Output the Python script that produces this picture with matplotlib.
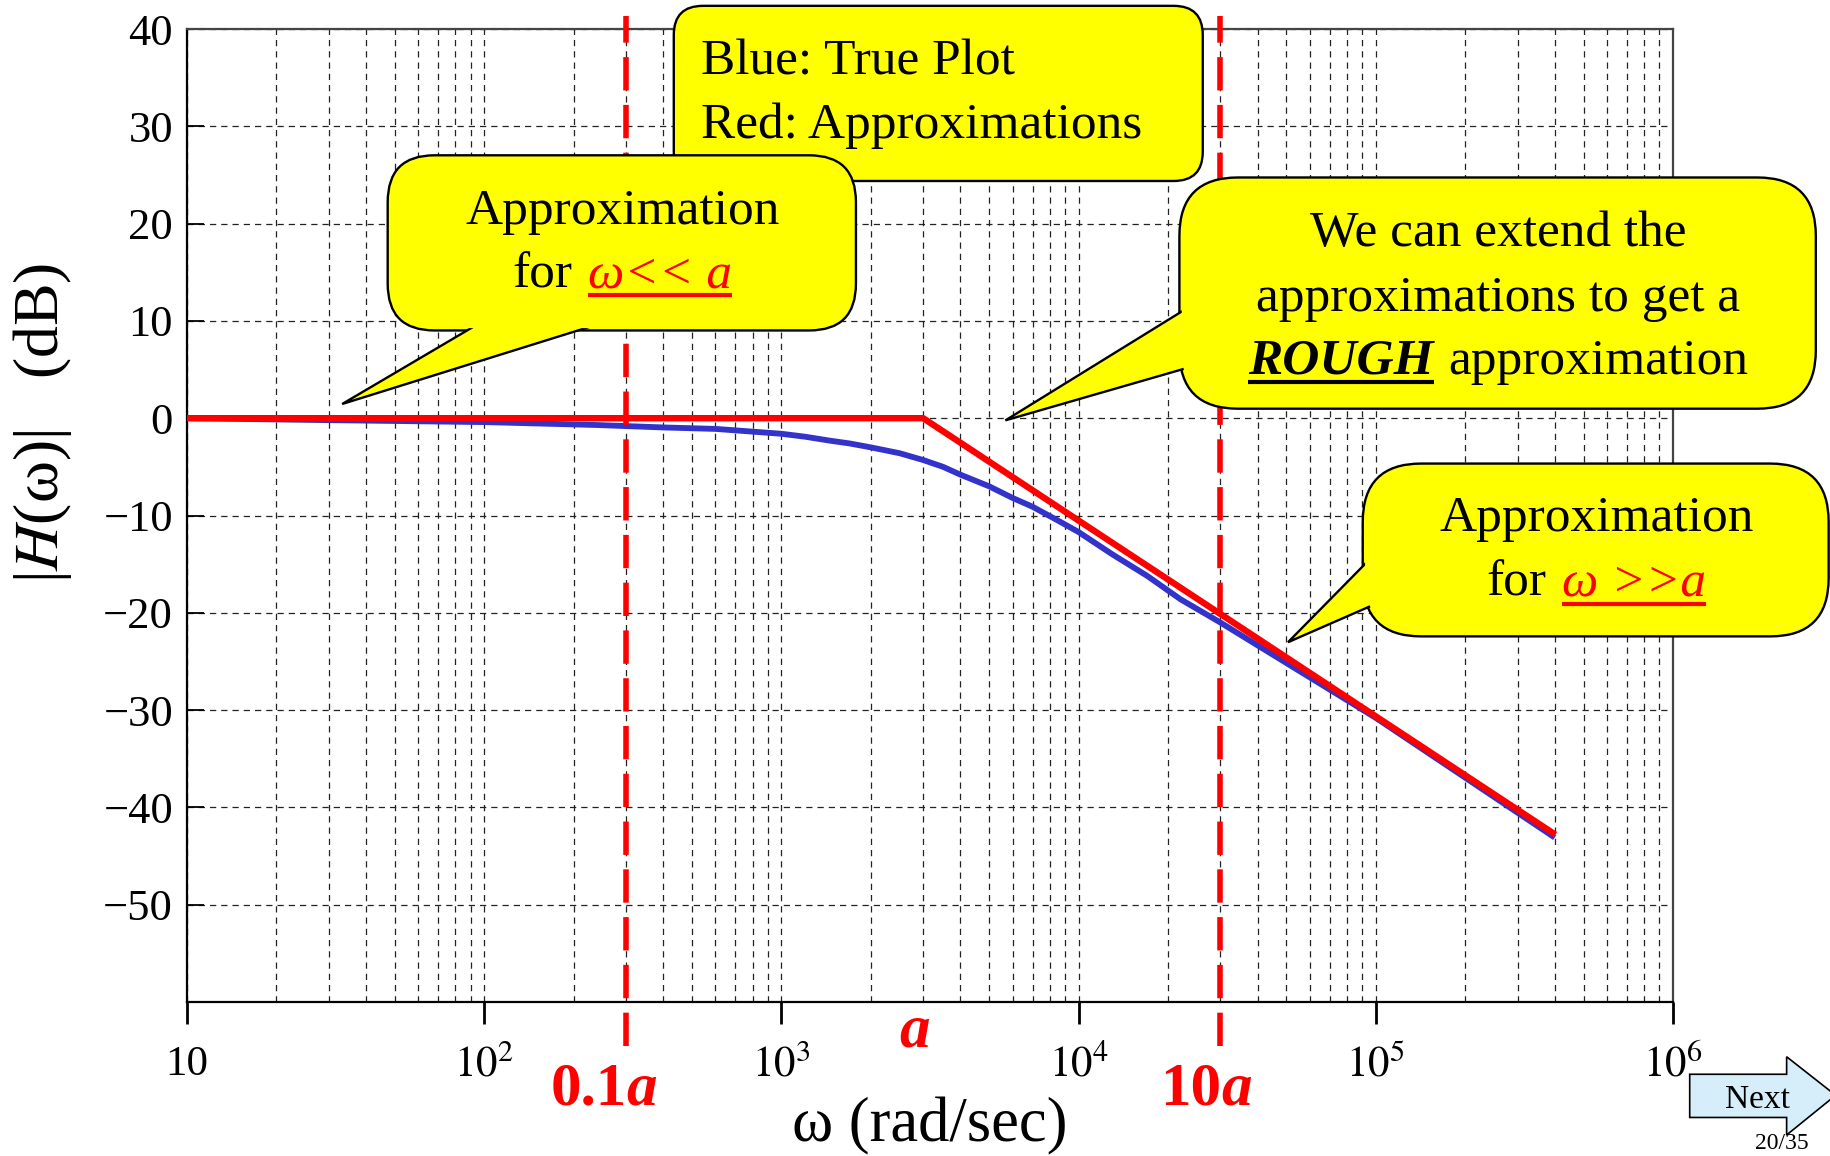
import matplotlib
matplotlib.use('Agg')
import matplotlib.pyplot as plt
from matplotlib.patches import FancyBboxPatch, Polygon
from matplotlib.transforms import Affine2D
from matplotlib.lines import Line2D
import matplotlib.ticker as mticker

plt.rcParams['font.family'] = ['Liberation Serif', 'DejaVu Serif']
plt.rcParams['mathtext.fontset'] = 'stix'

# ---------------- data ----------------
omega_true = [10, 30, 100, 240, 400, 600, 700, 1000, 1200, 1450, 1700, 2000, 2500, 3000,
              3500, 4000, 5000, 6000, 7000, 8500, 1e4, 1.3e4, 1.7e4, 2.2e4, 3e4, 1e5, 4e5]
mag_true_db = [0, -0.2, -0.4, -0.7, -0.95, -1.1, -1.25, -1.6, -1.9, -2.3, -2.6, -3.0, -3.6, -4.3,
               -5.0, -5.8, -7.0, -8.2, -9.1, -10.5, -11.7, -14.0, -16.2, -18.6, -21.0, -30.8, -43.1]
omega_approx = [10, 3000, 4.02e5]
mag_approx_db = [0, 0, -42.8]
marker_omega = [300, 30000]
y_ticks = [40, 30, 20, 10, 0, -10, -20, -30, -40, -50]
y_tick_labels = ['40', '30', '20', '10', '0', '\u221210', '\u221220', '\u221230', '\u221240', '\u221250']
x_ticks = [10, 1e2, 1e3, 1e4, 1e5, 1e6]
x_tick_labels = ['10', r'$10^{2}$', r'$10^{3}$', r'$10^{4}$', r'$10^{5}$', r'$10^{6}$']

W, H = 1831, 1156
fig = plt.figure(figsize=(W / 100, H / 100), dpi=100)
fig.patch.set_facecolor('white')

# reference-layout coordinates (1568 x 990 grid, y down)
T = Affine2D().scale(1 / 1568, -1 / 990).translate(0, 1) + fig.transFigure
K = W / 1568.0

ax = fig.add_axes([187 / W, (H - 1002) / H, (1673 - 187) / W, (1002 - 29) / H])
ax.set_xscale('log')
ax.set_xlim(10, 1e6)
ax.set_ylim(-60, 40)

ax.grid(True, which='both', axis='x', color='#222222', lw=0.9, ls=(0, (5, 4)))
ax.grid(True, which='major', axis='y', color='#222222', lw=0.9, ls=(0, (5, 4)))
ax.set_axisbelow(True)

ax.set_xticks(x_ticks)
ax.set_xticklabels(x_tick_labels)
ax.xaxis.set_minor_locator(mticker.LogLocator(base=10, subs=range(2, 10), numticks=50))
ax.xaxis.set_minor_formatter(mticker.NullFormatter())
ax.set_yticks(y_ticks)
ax.set_yticklabels(y_tick_labels)
ax.tick_params(axis='x', which='major', direction='out', length=16, width=2,
               labelsize=31, pad=15)
ax.tick_params(axis='x', which='minor', length=0)
ax.tick_params(axis='y', which='major', direction='in', length=12, width=1.3,
               labelsize=32, pad=10)
for s in ['left', 'bottom']:
    ax.spines[s].set_linewidth(1.6)
    ax.spines[s].set_color('black')
for s in ['top', 'right']:
    ax.spines[s].set_linewidth(1.6)
    ax.spines[s].set_color('#444444')

ax.plot(omega_true, mag_true_db, color='#3333cc', lw=4.2, zorder=3,
        solid_capstyle='butt', solid_joinstyle='round')
ax.plot(omega_approx, mag_approx_db, color='#ff0000', lw=4.6, zorder=4, solid_capstyle='butt')

for xm in marker_omega:
    ax.axvline(xm, ymin=-0.045, ymax=1.013, color='#ff0000', lw=4, dashes=(6, 2.6),
               clip_on=False, zorder=5)

ax.set_xlabel('\u03c9 (rad/sec)', fontsize=45, labelpad=8)
ax.set_ylabel('|$H$(\u03c9)|   (dB)', fontsize=46, va='center')
ax.yaxis.set_label_coords(-0.097, 0.595)

renderer = fig.canvas.get_renderer()


def mixed_line(parts, cx, base_y, size, z, ha='center'):
    """parts: list of (text, color, style, weight, underline, gap_after)"""
    items = []
    total = 0
    for (s, color, style, weight, ul, gap) in parts:
        t = fig.text(0, 0, s, transform=T, fontsize=size, color=color, style=style,
                     weight=weight, va='baseline', ha='left', zorder=z)
        w = t.get_window_extent(renderer).width / K
        items.append((t, w, color, ul, gap))
        total += w + gap
    total -= items[-1][4]
    x = cx - total / 2 if ha == 'center' else cx
    for t, w, color, ul, gap in items:
        t.set_position((x, base_y))
        if ul:
            fig.add_artist(Line2D([x, x + w], [base_y + 7, base_y + 7], transform=T,
                                  color=color, lw=3, zorder=z, solid_capstyle='butt'))
        x += w + gap


def callout(x0, y0, x1, y1, r, z, tail=None):
    box = FancyBboxPatch((x0, y0), x1 - x0, y1 - y0,
                         boxstyle=f"round,pad=0,rounding_size={r}", transform=T,
                         fc='#ffff00', ec='black', lw=1.7, zorder=z)
    fig.add_artist(box)
    if tail:
        a1, tip, a2 = tail
        e1 = (a1[0] + (a1[0] - tip[0]) * 0.15, a1[1] + (a1[1] - tip[1]) * 0.15)
        e2 = (a2[0] + (a2[0] - tip[0]) * 0.15, a2[1] + (a2[1] - tip[1]) * 0.15)
        poly = Polygon([e1, tip, e2], closed=True, transform=T, fc='#ffff00',
                       ec='black', lw=1.7, zorder=z + 0.01)
        fig.add_artist(poly)
        cover = FancyBboxPatch((x0 + 2, y0 + 2), x1 - x0 - 4, y1 - y0 - 4,
                               boxstyle=f"round,pad=0,rounding_size={r - 2}", transform=T,
                               fc='#ffff00', ec='none', zorder=z + 0.02)
        fig.add_artist(cover)


FS = 37
# top legend box
callout(577, 5, 1030, 155, 25, 5)
fig.text(600, 64, 'Blue: True Plot', transform=T, fontsize=FS, va='baseline', ha='left', zorder=5.5)
fig.text(600, 118, 'Red: Approximations', transform=T, fontsize=FS, va='baseline', ha='left', zorder=5.5)

# left callout
callout(332, 133, 733, 283, 40, 6, tail=[(400, 283), (293, 346), (495, 283)])
mixed_line([('Approximation', 'black', 'normal', 'normal', False, 0)], 533, 192, FS, 6.5)
mixed_line([('for', 'black', 'normal', 'normal', False, 13),
            ('\u03c9<< a', '#ff0000', 'italic', 'normal', True, 0)], 533, 246, FS, 6.5)

# right callout
callout(1010, 152, 1555, 350, 50, 7, tail=[(1010, 268), (861, 360), (1010, 317)])
mixed_line([('We can extend the', 'black', 'normal', 'normal', False, 0)], 1283, 211, FS, 7.5)
mixed_line([('approximations to get a', 'black', 'normal', 'normal', False, 0)], 1283, 266, FS, 7.5)
mixed_line([('ROUGH', 'black', 'italic', 'bold', True, 12),
            ('approximation', 'black', 'normal', 'normal', False, 0)], 1283, 320, FS, 7.5)

# lower right callout
callout(1167, 397, 1566, 545, 50, 8, tail=[(1167, 485), (1103, 550), (1167, 522)])
mixed_line([('Approximation', 'black', 'normal', 'normal', False, 0)], 1367, 455, FS, 8.5)
mixed_line([('for', 'black', 'normal', 'normal', False, 13),
            ('\u03c9 >>a', '#ff0000', 'italic', 'normal', True, 0)], 1367, 510, FS, 8.5)

# red marker labels below the axis
mixed_line([('0.1', '#ff0000', 'normal', 'bold', False, 0),
            ('a', '#ff0000', 'italic', 'bold', False, 0)], 517, 946, 44, 9)
mixed_line([('a', '#ff0000', 'italic', 'bold', False, 0)], 783, 896, 44, 9)
mixed_line([('10', '#ff0000', 'normal', 'bold', False, 0),
            ('a', '#ff0000', 'italic', 'bold', False, 0)], 1033, 946, 44, 9)

# Next arrow
arrow = Polygon([(1447, 920), (1530, 920), (1530, 905), (1572, 938), (1530, 972),
                 (1530, 957), (1447, 957)], closed=True, transform=T,
                fc='#d5eef9', ec='black', lw=1.2, zorder=9)
fig.add_artist(arrow)
fig.text(1505, 949, 'Next', transform=T, fontsize=24, ha='center', va='baseline', zorder=9.5)
fig.text(1503, 988, '20/35', transform=T, fontsize=17, ha='left', va='bottom', zorder=9.5)

fig.savefig('out.png', dpi=100)
